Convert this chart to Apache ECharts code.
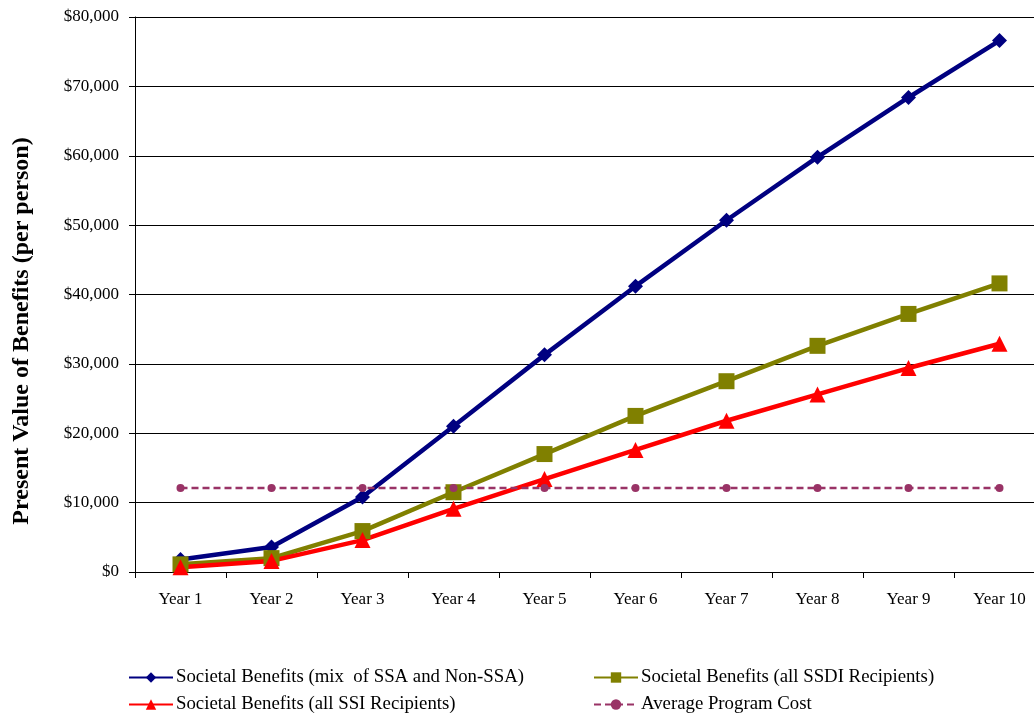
<!DOCTYPE html>
<html>
<head>
<meta charset="utf-8">
<script src="https://cdn.jsdelivr.net/npm/echarts@6/dist/echarts.min.js"></script>
<style>
  html, body { margin: 0; padding: 0; background: #fff; }
  #chart { width: 1034px; height: 715px; }
</style>
</head>
<body>
<div id="chart"></div>
<script>
var years = ['Year 1', 'Year 2', 'Year 3', 'Year 4', 'Year 5', 'Year 6', 'Year 7', 'Year 8', 'Year 9', 'Year 10'];
var mixBenefits = [1800, 3600, 10800, 21000, 31300, 41200, 50700, 59800, 68400, 76600];
var ssdiBenefits = [1100, 2000, 5900, 11500, 17000, 22500, 27500, 32600, 37200, 41600];
var ssiBenefits = [700, 1600, 4600, 9100, 13400, 17600, 21800, 25600, 29400, 32900];
var programCost = [12100, 12100, 12100, 12100, 12100, 12100, 12100, 12100, 12100, 12100];

var serif = '"Liberation Serif", "Times New Roman", serif';

// 图例位置：两列两行
function legendAt(name, left, top) {
    return {
        data: [name], left: left, top: top,
        itemWidth: 44, itemHeight: 13, itemGap: 4,
        textStyle: { fontFamily: serif, fontSize: 18.8, color: '#000', padding: [0, 0, 0, -2] }
    };
}

var chart = echarts.init(document.getElementById('chart'));
chart.setOption({
    animation: false,
    grid: { left: 135, right: -11, top: 17, bottom: 143, containLabel: false, outerBoundsMode: 'none' },
    legend: [
        legendAt('Societal Benefits (mix  of SSA and Non-SSA)', 123, 663),
        legendAt('Societal Benefits (all SSDI Recipients)', 588, 663),
        legendAt('Societal Benefits (all SSI Recipients)', 123, 690),
        legendAt('Average Program Cost', 588, 690)
    ],
    graphic: [{
        type: 'text',
        x: 22, y: 331,
        rotation: Math.PI / 2,
        style: {
            text: 'Present Value of Benefits (per person)',
            font: 'bold 24px ' + serif,
            fill: '#000',
            align: 'center',
            verticalAlign: 'middle'
        }
    }],
    xAxis: {
        type: 'category',
        data: years,
        boundaryGap: true,
        axisLine: { lineStyle: { color: '#000', width: 1 } },
        axisTick: { show: true, length: 6, lineStyle: { color: '#000' } },
        axisLabel: { fontFamily: serif, fontSize: 17, color: '#000', margin: 19 }
    },
    yAxis: {
        type: 'value',
        min: 0, max: 80000, interval: 10000,
        axisLine: { show: true, lineStyle: { color: '#000' } },
        axisTick: { show: true, length: 6, lineStyle: { color: '#000' } },
        axisLabel: {
            fontFamily: serif, fontSize: 17, color: '#000', margin: 16,
            formatter: function (v) { return '$' + v.toLocaleString('en-US'); }
        },
        splitLine: { lineStyle: { color: '#000', width: 1 } }
    },
    series: [
        {
            name: 'Societal Benefits (mix  of SSA and Non-SSA)', type: 'line', data: mixBenefits,
            symbol: 'diamond', symbolSize: 15,
            lineStyle: { color: '#000080', width: 4.5 }, itemStyle: { color: '#000080' }
        },
        {
            name: 'Societal Benefits (all SSDI Recipients)', type: 'line', data: ssdiBenefits,
            symbol: 'rect', symbolSize: 16,
            lineStyle: { color: '#808000', width: 4.5 }, itemStyle: { color: '#808000' }
        },
        {
            name: 'Societal Benefits (all SSI Recipients)', type: 'line', data: ssiBenefits,
            symbol: 'triangle', symbolSize: 16,
            lineStyle: { color: '#ff0000', width: 4.5 }, itemStyle: { color: '#ff0000' }
        },
        {
            name: 'Average Program Cost', type: 'line', data: programCost,
            symbol: 'circle', symbolSize: 8,
            lineStyle: { color: '#993366', width: 2.5, type: [7, 4] }, itemStyle: { color: '#993366' }
        }
    ]
});
</script>
</body>
</html>
